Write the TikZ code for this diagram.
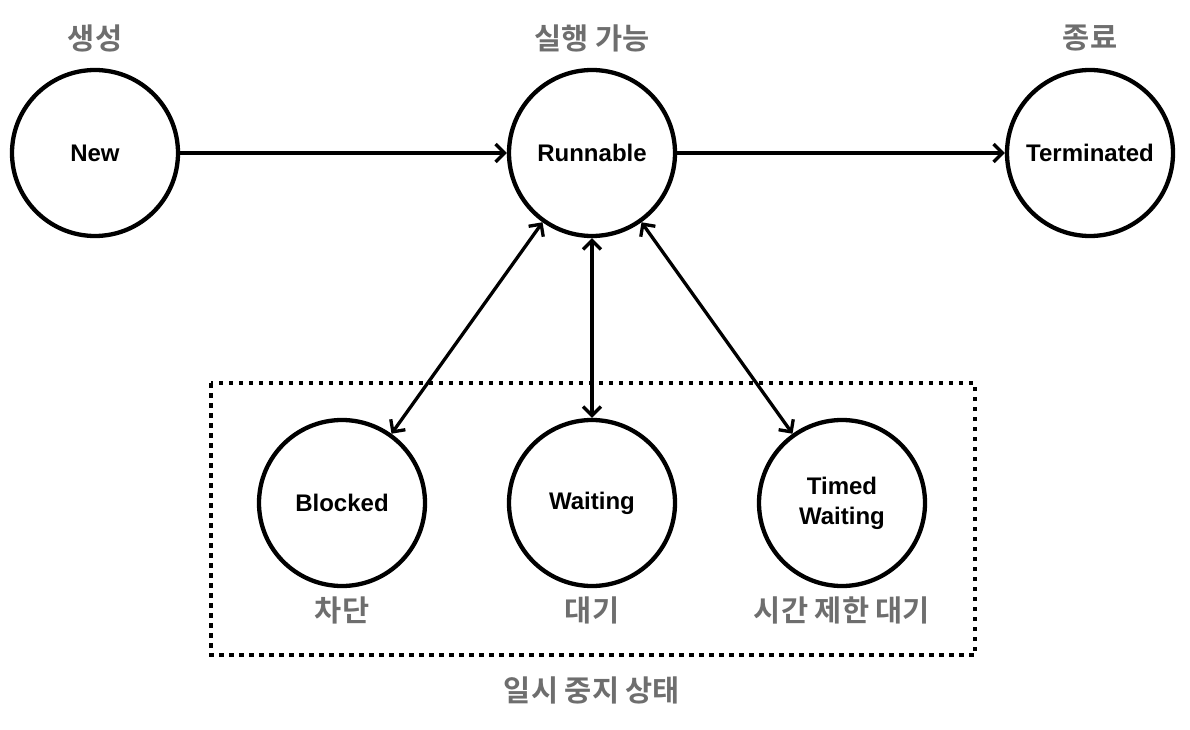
\documentclass[tikz,border=0pt]{standalone}
\usepackage{fontspec}
\setmainfont{Liberation Sans}
\newfontfamily\krfont{Noto Sans CJK KR Bold}
\usetikzlibrary{arrows.meta}
\definecolor{lblgray}{HTML}{6E6E6E}
\begin{document}
\begin{tikzpicture}[x=1pt,y=-1pt,
  state/.style={circle, draw=black, line width=4.3pt, minimum size=166pt, inner sep=0pt,
    font=\bfseries\fontsize{24}{30}\selectfont, align=center},
  klabel/.style={font=\krfont\fontsize{29.5}{34}\selectfont, text=lblgray, inner sep=0pt},
  conn/.style={line width=3.3pt, -{Straight Barb[length=9pt,width=18pt,line width=3.3pt]}},
  biconn/.style={line width=3.3pt, {Straight Barb[length=9pt,width=18pt,line width=3.3pt]}-{Straight Barb[length=9pt,width=18pt,line width=3.3pt]}},
  group/.style={draw=black, line width=4.5pt, dash pattern=on 4.5pt off 5.5pt}
]
\useasboundingbox (0,0) rectangle (1190,730);
\node[state] (new) at (95,153) {New};
\node[state] (run) at (592,153) {Runnable};
\node[state] (term) at (1090,153) {Terminated};
\node[state] (blk) at (342,503) {Blocked};
\node[state] (wait) at (592,503) {Waiting};
\node[state] (tw) at (842,503) {Timed\\Waiting};

\node[klabel] (lnew) at (95,38) {생성};
\node[klabel] (lrun) at (592,38) {실행 가능};
\node[klabel] (lterm) at (1090,38) {종료};
\node[klabel] (lblk) at (342,610) {차단};
\node[klabel] (lwait) at (592,610) {대기};
\node[klabel] (ltw) at (842,610) {시간 제한 대기};
\node[klabel] (lgrp) at (592,690) {일시 중지 상태};

\draw[group] (211,383) rectangle (975,655);

\draw[conn] (new) -- (run);
\draw[conn] (run) -- (term);
\draw[biconn] (run) -- (blk);
\draw[biconn] (run) -- (wait);
\draw[biconn] (run) -- (tw);
\end{tikzpicture}
\end{document}
